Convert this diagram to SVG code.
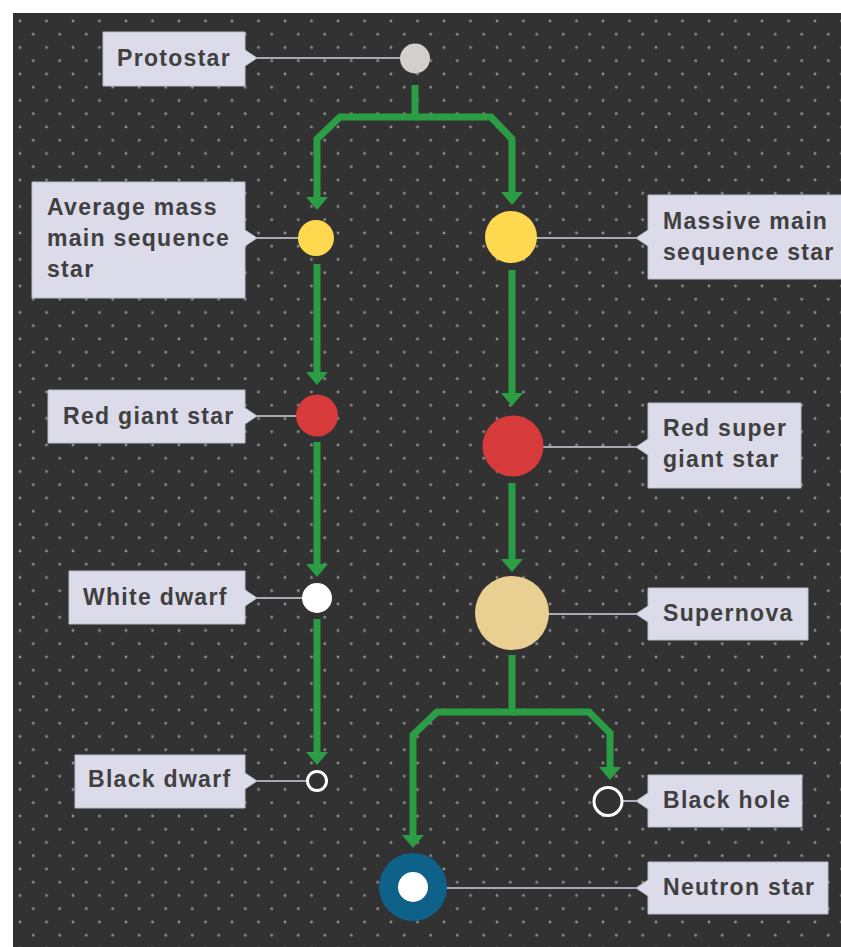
<svg xmlns="http://www.w3.org/2000/svg" width="841" height="947" viewBox="0 0 841 947">
<defs>
<pattern id="dots" patternUnits="userSpaceOnUse" x="20" y="21" width="26.5" height="26.5">
<circle cx="0" cy="0" r="1.4" fill="#8e8e8e"/><circle cx="26.5" cy="0" r="1.4" fill="#8e8e8e"/><circle cx="0" cy="26.5" r="1.4" fill="#8e8e8e"/><circle cx="26.5" cy="26.5" r="1.4" fill="#8e8e8e"/>
<circle cx="13.25" cy="13.25" r="1.4" fill="#8e8e8e"/>
</pattern>
<marker id="ah" markerUnits="userSpaceOnUse" viewBox="0 0 13 22" markerWidth="13" markerHeight="22" refX="0" refY="11" orient="auto">
<path d="M0,0 L13,11 L0,22 Z" fill="#2a9d45"/>
</marker>
<style>
.lbl{fill:#dcdbe9;stroke:#bdbccc;stroke-width:1}
.txt{font-family:"Liberation Sans",Arial,sans-serif;font-weight:bold;font-size:23px;letter-spacing:1.3px;fill:#404040}
.lead{stroke:#d2d2de;stroke-width:1.6;fill:none}
.flow{stroke:#2a9d45;stroke-width:7;fill:none;stroke-linejoin:miter}
</style>
</defs>
<rect x="0" y="0" width="841" height="947" fill="#ffffff"/>
<rect x="13" y="13" width="828" height="934" fill="#323232"/>
<rect x="13" y="13" width="828" height="934" fill="url(#dots)"/>

<g id="connectors">
<path class="flow" d="M415,85 V117 H340 L317,139 V197" marker-end="url(#ah)"/>
<path class="flow" d="M415,117 H491 L512,139 V192" marker-end="url(#ah)"/>
<path class="flow" d="M317,264 V372" marker-end="url(#ah)"/>
<path class="flow" d="M317,442 V564" marker-end="url(#ah)"/>
<path class="flow" d="M317,619 V752" marker-end="url(#ah)"/>
<path class="flow" d="M512,270 V393" marker-end="url(#ah)"/>
<path class="flow" d="M512,483 V559" marker-end="url(#ah)"/>
<path class="flow" d="M512,655 V712 H437 L413,735 V835" marker-end="url(#ah)"/>
<path class="flow" d="M512,712 H589 L610,733 V767" marker-end="url(#ah)"/>
</g>

<g id="protostar">
<path class="lbl" d="M103,32 H245 V50 L257,58 L245,66 V86 H103 Z"/>
<line class="lead" x1="257" y1="58" x2="401" y2="58"/>
<circle cx="415" cy="58.5" r="15" fill="#d4cecd"/>
<text class="txt" x="117" y="66">Protostar</text>
</g>

<g id="average-mass">
<path class="lbl" d="M32,182 H245 V230 L257,238 L245,246 V298 H32 Z"/>
<line class="lead" x1="257" y1="238" x2="299" y2="238"/>
<circle cx="316" cy="238" r="18" fill="#fed94f"/>
<text class="txt" x="47" y="215">Average mass</text>
<text class="txt" x="47" y="246">main sequence</text>
<text class="txt" x="47" y="277">star</text>
</g>

<g id="massive-main">
<path class="lbl" d="M648,195 H846 V279 H648 V246 L636,238 L648,230 Z"/>
<line class="lead" x1="536" y1="238" x2="636" y2="238"/>
<circle cx="511" cy="237" r="26" fill="#fed94f"/>
<text class="txt" x="663" y="229">Massive main</text>
<text class="txt" x="663" y="260">sequence star</text>
</g>

<g id="red-giant">
<path class="lbl" d="M48,390 H245 V408 L257,416 L245,424 V443 H48 Z"/>
<line class="lead" x1="257" y1="416" x2="297" y2="416"/>
<circle cx="317" cy="415.5" r="21" fill="#d63a3a"/>
<text class="txt" x="63" y="424">Red giant star</text>
</g>

<g id="red-super-giant">
<path class="lbl" d="M648,403 H801 V488 H648 V455 L636,447 L648,439 Z"/>
<line class="lead" x1="542" y1="447" x2="636" y2="447"/>
<circle cx="513" cy="446" r="30.5" fill="#d63a3a"/>
<text class="txt" x="663" y="436">Red super</text>
<text class="txt" x="663" y="467">giant star</text>
</g>

<g id="white-dwarf">
<path class="lbl" d="M69,571 H245 V590 L257,598 L245,606 V624 H69 Z"/>
<line class="lead" x1="257" y1="598" x2="303" y2="598"/>
<circle cx="317" cy="598" r="15" fill="#ffffff"/>
<text class="txt" x="83" y="605">White dwarf</text>
</g>

<g id="supernova">
<path class="lbl" d="M648,588 H808 V640 H648 V622 L636,614 L648,606 Z"/>
<line class="lead" x1="548" y1="614" x2="636" y2="614"/>
<circle cx="512" cy="613" r="37" fill="#e9cf91"/>
<text class="txt" x="663" y="621">Supernova</text>
</g>

<g id="black-dwarf">
<path class="lbl" d="M75,755 H245 V773 L257,781 L245,789 V808 H75 Z"/>
<line class="lead" x1="257" y1="781" x2="307" y2="781"/>
<circle cx="317" cy="781" r="9.5" fill="#323232" stroke="#ffffff" stroke-width="3"/>
<text class="txt" x="88" y="787">Black dwarf</text>
</g>

<g id="black-hole">
<path class="lbl" d="M648,775 H802 V827 H648 V809 L636,801 L648,793 Z"/>
<line class="lead" x1="622" y1="801" x2="636" y2="801"/>
<circle cx="608" cy="801.5" r="14" fill="#323232" stroke="#ffffff" stroke-width="3"/>
<text class="txt" x="663" y="808">Black hole</text>
</g>

<g id="neutron-star">
<path class="lbl" d="M648,862 H828 V914 H648 V896 L636,888 L648,880 Z"/>
<line class="lead" x1="446" y1="888" x2="636" y2="888"/>
<circle cx="413" cy="887" r="34" fill="#0e6189"/>
<circle cx="413" cy="887" r="15" fill="#ffffff"/>
<text class="txt" x="663" y="895">Neutron star</text>
</g>
</svg>
